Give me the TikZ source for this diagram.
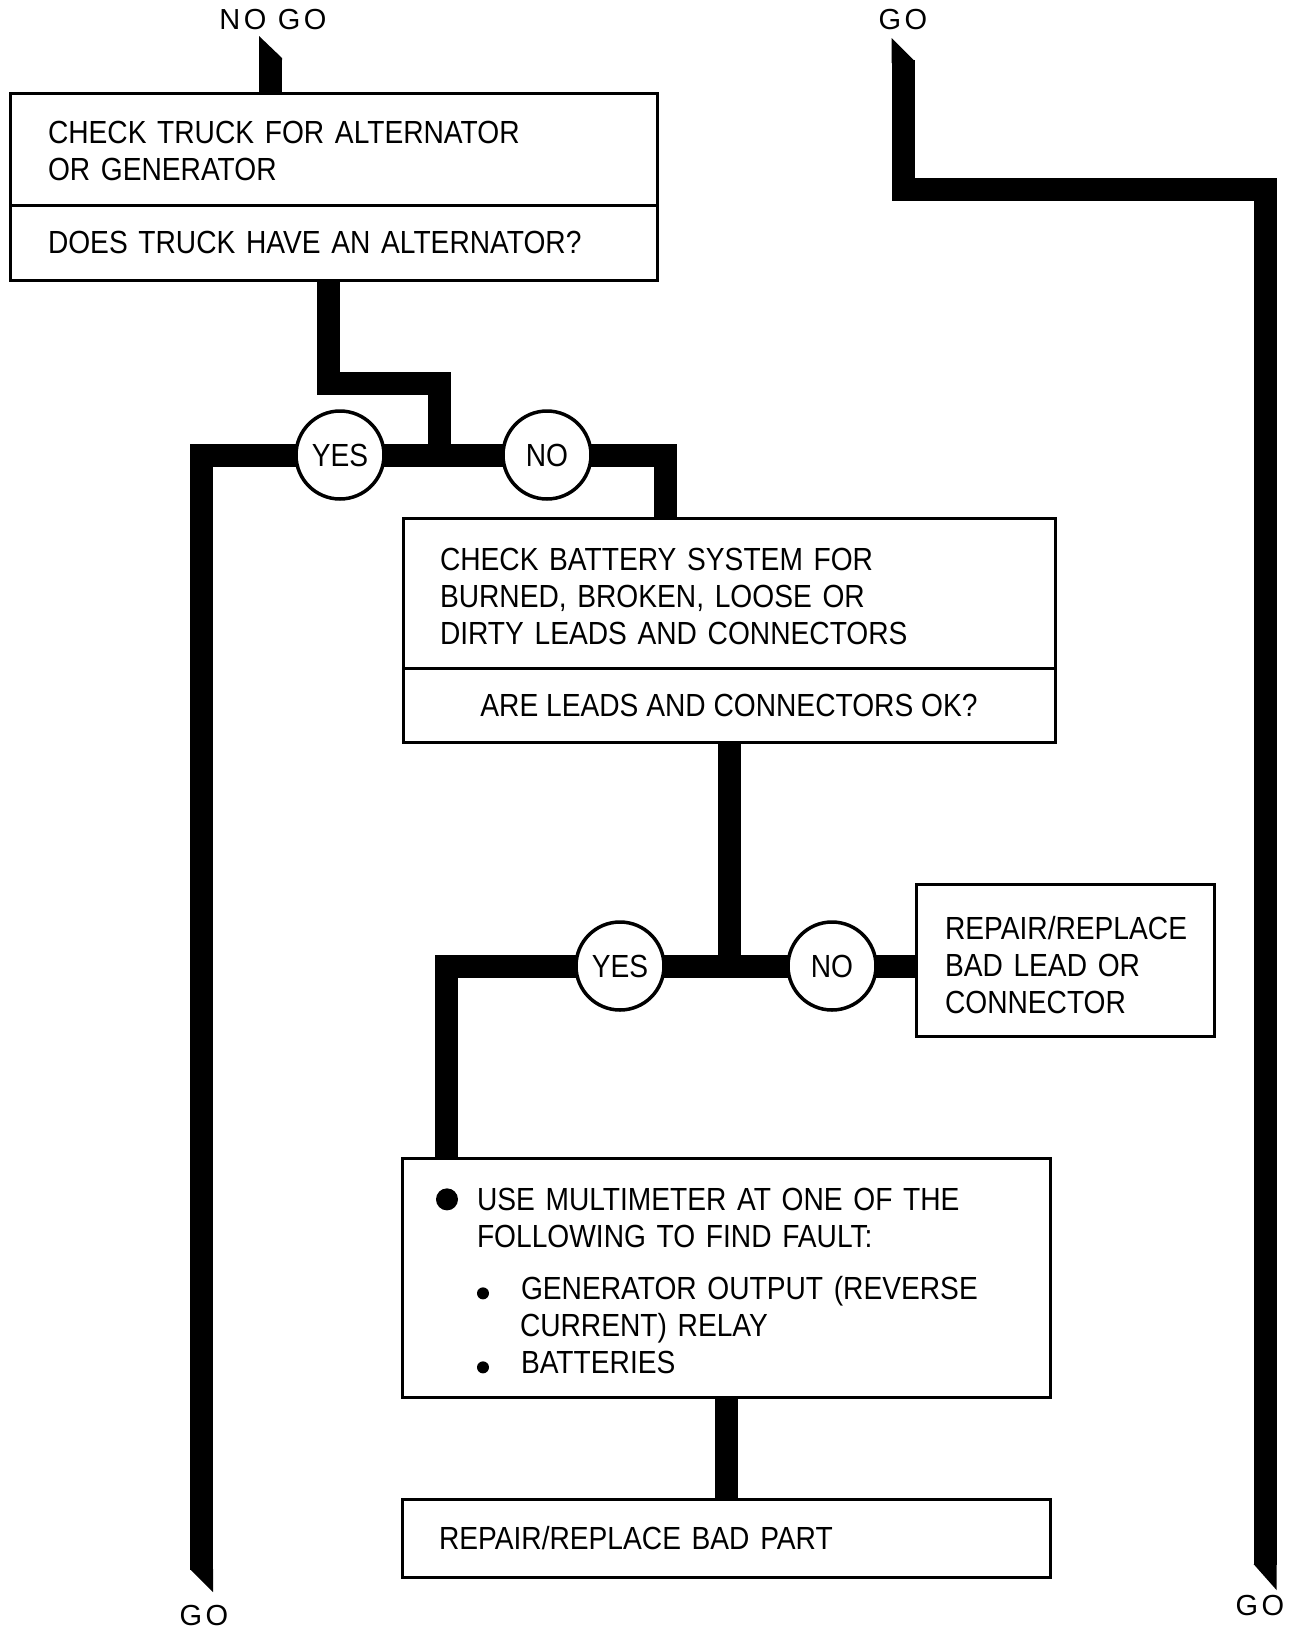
\documentclass[tikz,border=0pt]{standalone}
\usepackage{fontspec}
\setmainfont{Liberation Sans}
\newfontfamily\boxfont[FakeStretch=0.88]{Liberation Sans}
\newfontfamily\tagfont[LetterSpace=12]{Liberation Sans}
\usetikzlibrary{calc}
\pgfdeclarelayer{bg}
\pgfsetlayers{bg,main}
\newcommand\bigdot{\tikz\fill[black] (0pt,0pt) circle (11pt);}
\newcommand\smalldot{\tikz\fill[black] (0pt,0pt) circle (6pt);}
\newcommand\lift[1]{\rule{0pt}{#1}}
\begin{document}
\begin{tikzpicture}[x=1pt,y=-1pt,
  box/.style={draw=black, line width=3pt, fill=white, rectangle, inner xsep=0pt, inner ysep=0pt,
    font=\boxfont\fontsize{32}{37}\selectfont, align=left},
  ans/.style={draw=black, line width=3.5pt, fill=white, circle, minimum size=88pt, inner sep=0pt,
    font=\boxfont\fontsize{32}{37}\selectfont},
  band/.style={line width=23pt, line join=miter, line cap=butt, draw=black},
  tag/.style={font=\tagfont\fontsize{29}{32}\selectfont, inner sep=0pt}]
\useasboundingbox (0,0) rectangle (1293,1628);

% boxes
\node[box, minimum width=647pt, minimum height=112pt, text width=571pt] (b1a) at (333.5,149)
  {\lift{27pt}CHECK TRUCK FOR ALTERNATOR\\OR GENERATOR};
\node[box, minimum width=647pt, minimum height=75pt, text width=571pt] (b1b) at (333.5,242.5)
  {DOES TRUCK HAVE AN ALTERNATOR?};
\node[box, minimum width=652pt, minimum height=150pt, text width=578pt] (b2a) at (729,593)
  {\lift{29pt}CHECK BATTERY SYSTEM FOR\\BURNED, BROKEN, LOOSE OR\\DIRTY LEADS AND CONNECTORS};
\node[box, minimum width=652pt, minimum height=74pt, align=center] (b2b) at (729,705)
  {ARE LEADS AND CONNECTORS OK?};
\node[box, minimum width=298pt, minimum height=152pt, text width=240pt] (b3) at (1065,960)
  {\lift{33pt}REPAIR/REPLACE\\BAD LEAD OR\\CONNECTOR};
\node[box, minimum width=648pt, minimum height=239pt, text width=580pt] (b4) at (726,1277.5)
  {\lift{29pt}\makebox[41pt][l]{\bigdot}USE MULTIMETER AT ONE OF THE\\
   \hspace*{41pt}FOLLOWING TO FIND FAULT:\\[15pt]
   \hspace*{41pt}\makebox[44pt][l]{\smalldot}GENERATOR OUTPUT (REVERSE\\
   \hspace*{84pt}CURRENT) RELAY\\
   \hspace*{41pt}\makebox[44pt][l]{\smalldot}BATTERIES};
\node[box, minimum width=648pt, minimum height=78pt, text width=574pt] (b5) at (726,1538)
  {REPAIR/REPLACE BAD PART};

% answer circles
\node[ans] (yes1) at (340,455) {YES};
\node[ans] (no1) at (547,455) {NO};
\node[ans] (yes2) at (620,966) {YES};
\node[ans] (no2) at (832,966) {NO};

% free ends and junctions
\coordinate (j1) at (439.5,455);
\coordinate (j2) at (729,966);
\coordinate (nogo) at (270.5,58);
\coordinate (gotop) at (903,60);
\coordinate (gocorner) at (1265,189);
\coordinate (gobot) at (1265,1565);
\coordinate (yesbot) at (201.5,1570);

% labels
\node[tag] (tnogo) at (273,20) {NO GO};
\node[tag] (tgo1) at (903,20) {GO};
\node[tag] (tgo2) at (204,1615) {GO};
\node[tag] (tgo3) at (1260,1605) {GO};

\begin{pgfonlayer}{bg}
\draw[band] (nogo) -- (nogo |- b1a.north);
\fill (259,36) -- (282,58) -- (282,60) -- (259,60) -- cycle;
\draw[band] (gotop) |- (gocorner) -- (gobot);
\fill (891.5,38) -- (914.5,61) -- (914.5,63) -- (891.5,63) -- cycle;
\fill (1253.5,1564) -- (1276.5,1564) -- (1276.5,1590) -- cycle;
\draw[band] ([xshift=-5pt]b1b.south) -- ++(0,101.5) -| (j1);
\draw[band] (yes1.center) -- (no1.center);
\draw[band] (yes1.center) -| (yesbot);
\fill (190.0,1569) -- (213,1569) -- (213,1592) -- cycle;
\draw[band] (no1.center) -| ([xshift=-64pt]b2a.north);
\draw[band] (b2b.south) -- (j2);
\draw[band] (yes2.center) -- (no2.center);
\draw[band] (no2.center) -- (no2.center -| b3.west);
\draw[band] (yes2.center) -| ([xshift=-280pt]b4.north);
\draw[band] (b4.south) -- (b5.north);
\end{pgfonlayer}
\end{tikzpicture}
\end{document}
